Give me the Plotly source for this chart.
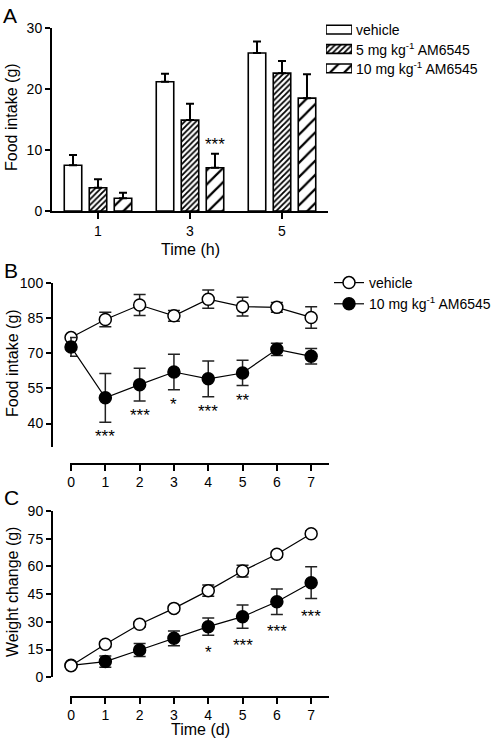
import plotly.graph_objects as go

W, H = 502, 749
FONT = "Arial, 'Liberation Sans', Helvetica, sans-serif"

# ---------------- Data ----------------
# Panel A: food intake (g) by time (h)
a_times = ["1", "3", "5"]
a_vehicle = [7.5, 21.2, 25.9]
a_vehicle_sem = [1.7, 1.3, 1.9]
a_5mg = [3.8, 14.9, 22.6]
a_5mg_sem = [1.4, 2.7, 2.0]
a_10mg = [2.1, 7.1, 18.5]
a_10mg_sem = [0.9, 2.3, 3.9]
a_10mg_stars = ["", "***", ""]
a_legend_names = ["vehicle", "5 mg kg<sup>-1</sup> AM6545", "10 mg kg<sup>-1</sup> AM6545"]

# Panel B: cumulative food intake (g) by day
days = [0, 1, 2, 3, 4, 5, 6, 7]
b_vehicle = [76.7, 84.4, 90.6, 86.0, 93.1, 89.9, 89.6, 85.3]
b_vehicle_sem = [1.0, 3.1, 4.5, 2.3, 3.9, 4.0, 2.1, 4.6]
b_am = [72.7, 51.0, 56.6, 62.0, 59.1, 61.6, 71.7, 68.7]
b_am_sem = [4.0, 10.4, 7.0, 7.6, 7.6, 5.4, 2.6, 3.3]
b_stars = ["", "***", "***", "*", "***", "**", "", ""]

# Panel C: weight change (g) by day
c_vehicle = [6.3, 17.9, 28.7, 37.3, 46.9, 57.5, 66.6, 77.7]
c_vehicle_sem = [0.8, 1.5, 1.5, 1.5, 3.0, 3.2, 1.5, 1.5]
c_am = [6.5, 8.5, 14.8, 21.1, 27.4, 32.8, 40.9, 51.2]
c_am_sem = [0.8, 3.0, 3.5, 4.0, 4.7, 6.3, 6.9, 8.6]
c_stars = ["", "", "", "", "*", "***", "***", "***"]

vehicle_name = "vehicle"
am_name = "10 mg kg<sup>-1</sup> AM6545"


def px(x):
    return x / W


def py(y):
    return 1 - y / H


fig = go.Figure()

# ---------------- Panel A bars ----------------
patterns = [
    dict(shape="", fgcolor="black", bgcolor="white"),
    dict(shape="/", size=4, solidity=0.45, fgcolor="black", bgcolor="white", fillmode="replace"),
    dict(shape="/", size=10, solidity=0.22, fgcolor="black", bgcolor="white", fillmode="replace"),
]
for vals, sems, pat, nm in zip([a_vehicle, a_5mg, a_10mg],
                               [a_vehicle_sem, a_5mg_sem, a_10mg_sem],
                               patterns, a_legend_names):
    fig.add_trace(go.Bar(
        x=a_times, y=vals, name=nm, showlegend=False,
        marker=dict(color="white", line=dict(color="black", width=1.6), pattern=pat),
        error_y=dict(type="data", array=sems, arrayminus=[0] * len(sems), symmetric=False,
                     color="black", thickness=2, width=4),
        xaxis="x", yaxis="y",
    ))

# Panel A legend swatches (on a small hidden axis pair)
fig.add_trace(go.Bar(
    x=[1, 1, 1], y=[0, 1, 2], orientation="h", width=0.45, showlegend=False,
    hoverinfo="skip",
    marker=dict(
        color="white", line=dict(color="black", width=1.6),
        pattern=dict(shape=["", "/", "/"], size=[4, 4, 10], solidity=[0.3, 0.45, 0.22],
                     fgcolor="black", bgcolor="white", fillmode="replace"),
    ),
    xaxis="x4", yaxis="y4",
))

# ---------------- Panel B ----------------
fig.add_trace(go.Scatter(
    x=days, y=b_vehicle, name=vehicle_name, mode="lines+markers", cliponaxis=False,
    line=dict(color="black", width=1.2),
    marker=dict(symbol="circle", size=12, color="white", line=dict(color="black", width=1.5)),
    error_y=dict(type="data", array=b_vehicle_sem, color="#222", thickness=1.5, width=6),
    xaxis="x2", yaxis="y2",
))
fig.add_trace(go.Scatter(
    x=days, y=b_am, name=am_name, mode="lines+markers", cliponaxis=False,
    line=dict(color="black", width=1.2),
    marker=dict(symbol="circle", size=12, color="black", line=dict(color="black", width=1.5)),
    error_y=dict(type="data", array=b_am_sem, color="#222", thickness=1.5, width=6),
    xaxis="x2", yaxis="y2",
))

# ---------------- Panel C ----------------
fig.add_trace(go.Scatter(
    x=days, y=c_am, name=am_name, mode="lines+markers", cliponaxis=False, showlegend=False,
    line=dict(color="black", width=1.2),
    marker=dict(symbol="circle", size=12, color="black", line=dict(color="black", width=1.5)),
    error_y=dict(type="data", array=c_am_sem, color="#222", thickness=1.5, width=6),
    xaxis="x3", yaxis="y3",
))
fig.add_trace(go.Scatter(
    x=days, y=c_vehicle, name=vehicle_name, mode="lines+markers", cliponaxis=False,
    showlegend=False,
    line=dict(color="black", width=1.2),
    marker=dict(symbol="circle", size=12, color="white", line=dict(color="black", width=1.5)),
    error_y=dict(type="data", array=c_vehicle_sem, color="#222", thickness=1.5, width=6),
    xaxis="x3", yaxis="y3",
))

# ---------------- Axes ----------------
ax_common = dict(showline=True, linewidth=2, linecolor="black", showgrid=False, zeroline=False,
                 ticks="outside", tickwidth=2, tickcolor="black", automargin=False,
                 tickfont=dict(size=14, color="black", family=FONT))

layout = dict(
    width=W, height=H, margin=dict(l=0, r=0, t=0, b=0, pad=0, autoexpand=False),
    paper_bgcolor="white", plot_bgcolor="white",
    font=dict(family=FONT, color="black", size=14),
    barmode="group", bargap=0.185, bargroupgap=0.3,
    showlegend=True,
    legend=dict(x=px(329), y=py(267), xanchor="left", yanchor="top",
                bgcolor="rgba(0,0,0,0)", font=dict(size=14), tracegroupgap=0,
                itemsizing="trace"),
    xaxis=dict(ax_common, domain=[px(52), px(328)], type="category", anchor="y", ticklen=6),
    yaxis=dict(ax_common, domain=[py(211), py(28)], range=[0, 30], tickvals=[0, 10, 20, 30],
               anchor="x", ticklen=5),
    xaxis2=dict(ax_common, domain=[px(70), px(329)], range=[-0.03, 7.52], tickvals=days,
                anchor="free", position=py(463.5), ticklen=6),
    yaxis2=dict(ax_common, domain=[py(447), py(283)], range=[30, 100],
                tickvals=[40, 55, 70, 85, 100], anchor="free", position=px(52), ticklen=5),
    xaxis3=dict(ax_common, domain=[px(70), px(329)], range=[-0.03, 7.52], tickvals=days,
                anchor="free", position=py(696.5), ticklen=6),
    yaxis3=dict(ax_common, domain=[py(677.3), py(511)], range=[0, 90],
                tickvals=[0, 15, 30, 45, 60, 75, 90], anchor="free", position=px(52), ticklen=5),
    xaxis4=dict(domain=[px(326), px(352)], range=[0, 1], visible=False, anchor="y4",
                fixedrange=True),
    yaxis4=dict(domain=[py(78), py(20)], range=[2.5, -0.5], visible=False, anchor="x4",
                fixedrange=True),
)
fig.update_layout(**layout)

ann = []
# Legend A texts
for i, nm in enumerate(a_legend_names):
    ann.append(dict(x=1, y=i, xref="x4", yref="y4", text=nm, showarrow=False,
                    xanchor="left", yanchor="middle", xshift=2, font=dict(size=14)))

# Stars
STAR_FONT = dict(size=17, color="black", family=FONT)
for i, s in enumerate(a_10mg_stars):
    if s:
        ann.append(dict(x=i, y=a_10mg[i] + a_10mg_sem[i], xref="x", yref="y", text=s,
                        showarrow=False, xanchor="center", yanchor="bottom", xshift=25,
                        yshift=-2, font=STAR_FONT))
for i, s in enumerate(b_stars):
    if s:
        ann.append(dict(x=days[i], y=b_am[i] - b_am_sem[i], xref="x2", yref="y2", text=s,
                        showarrow=False, xanchor="center", yanchor="top", yshift=-3,
                        font=STAR_FONT))
for i, s in enumerate(c_stars):
    if s:
        ann.append(dict(x=days[i], y=c_am[i] - c_am_sem[i], xref="x3", yref="y3", text=s,
                        showarrow=False, xanchor="center", yanchor="top", yshift=-6,
                        font=STAR_FONT))

# Axis titles
title_font = dict(size=16, color="black", family=FONT)
ann += [
    dict(x=px(12), y=py(117), text="Food intake (g)", textangle=-90),
    dict(x=px(12), y=py(363), text="Food intake (g)", textangle=-90),
    dict(x=px(12), y=py(592), text="Weight change (g)", textangle=-90),
    dict(x=px(190), y=py(249), text="Time (h)"),
    dict(x=px(200), y=py(729), text="Time (d)"),
]
for a in ann[-5:]:
    a.update(xref="paper", yref="paper", showarrow=False, font=title_font,
             xanchor="center", yanchor="middle")
# Panel letters
for letter, (lx, ly) in zip(["A", "B", "C"], [(10, 15), (11, 270), (11, 497)]):
    ann.append(dict(x=px(lx), y=py(ly), xref="paper", yref="paper", text=letter,
                    xanchor="center", yanchor="middle",
                    showarrow=False, font=dict(size=21, color="black", family=FONT)))

fig.update_layout(annotations=ann)

# remove the default page margin so the figure fills the window exactly
fig.write_html("out.html", config={"displayModeBar": False},
               post_script="document.body.style.margin='0px';document.body.style.overflow='hidden';")
